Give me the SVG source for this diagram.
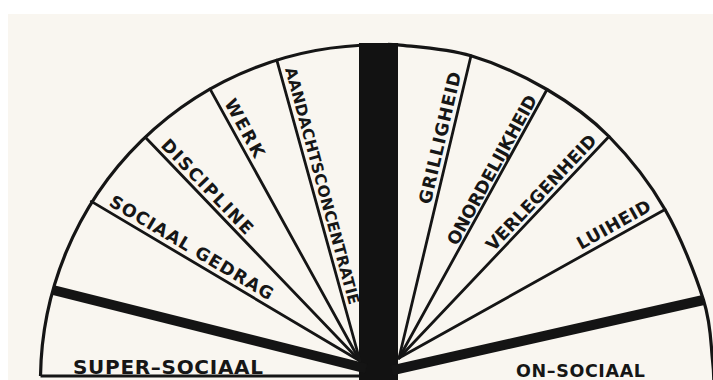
<svg xmlns="http://www.w3.org/2000/svg" width="713" height="380" viewBox="0 0 713 380">
<style>
.arc{stroke:#151515;stroke-width:3.2;fill:none}
.ln{stroke:#151515;stroke-width:2.8;fill:none;stroke-linecap:round}
.band{stroke:#141414;stroke-width:10;fill:none}
.lbl{font-family:"DejaVu Sans","Liberation Sans",sans-serif;font-weight:700;fill:#161616}
</style>
<rect width="713" height="380" fill="#ffffff"/>
<rect x="8" y="14" width="705" height="366" fill="#f9f6f0"/>
<g id="frame">
  <path class="arc" d="M40.5,376 A336,336 0 0 1 380,45"/>
  <path class="arc" d="M388,44.4 L398,44.8 C414.5,46.8 446.2,48.35 471,55.8 C495.8,63.25 524,76.05 547,89.5 C570,102.95 589.33,116.5 609,136.5 C628.67,156.5 649.5,182.25 665,209.5 C680.75,236.75 695.6,274.9 703.5,300 C711.4,325.1 710.75,345 712.5,360 C714.25,375 713.6,380 714,390"/>
  <path class="arc" d="M40.5,376 H362"/>
  <rect x="359" y="43" width="39" height="337" fill="#121212"/>
</g>
<g id="connectors">
  <path class="band" d="M53,290 L366,368.5"/>
  <path class="band" d="M703.5,300 L392,370.4"/>
  <path class="ln" d="M91.3,201.4 L360,361"/>
  <path class="ln" d="M145.3,137.3 L360,361"/>
  <path class="ln" d="M210.1,89.1 L360,361"/>
  <path class="ln" d="M276.8,60.1 L360,361"/>
  <path class="ln" d="M471,55.8 L399,358"/>
  <path class="ln" d="M547,89.5 L399,358"/>
  <path class="ln" d="M609,136.5 L399,358"/>
  <path class="ln" d="M665,209.5 L399,358"/>
</g>
<g id="node-super-sociaal">
  <text class="lbl" font-size="20" x="73" y="373.5" textLength="190" lengthAdjust="spacing">SUPER–SOCIAAL</text>
</g>
<g id="node-sociaal-gedrag">
  <text class="lbl" font-size="17.5" transform="translate(108,205) rotate(30.7)" textLength="187" lengthAdjust="spacing">SOCIAAL GEDRAG</text>
</g>
<g id="node-discipline">
  <text class="lbl" font-size="17.5" transform="translate(160,146) rotate(46.3)" textLength="124" lengthAdjust="spacing">DISCIPLINE</text>
</g>
<g id="node-werk">
  <text class="lbl" font-size="17.5" transform="translate(224,103) rotate(61.4)" textLength="64" lengthAdjust="spacing">WERK</text>
</g>
<g id="node-aandachtsconcentratie">
  <text class="lbl" font-size="15.5" transform="translate(285,69) rotate(74.8)" textLength="245" lengthAdjust="spacing">AANDACHTSCONCENTRATIE</text>
</g>
<g id="node-grilligheid">
  <text class="lbl" font-size="17.5" transform="translate(430.5,205) rotate(-76.8)" textLength="135" lengthAdjust="spacing">GRILLIGHEID</text>
</g>
<g id="node-onordelijkheid">
  <text class="lbl" font-size="17.5" transform="translate(457,246.5) rotate(-61.3)" textLength="168" lengthAdjust="spacing">ONORDELIJKHEID</text>
</g>
<g id="node-verlegenheid">
  <text class="lbl" font-size="17.5" transform="translate(493.5,252) rotate(-46.7)" textLength="152" lengthAdjust="spacing">VERLEGENHEID</text>
</g>
<g id="node-luiheid">
  <text class="lbl" font-size="17.5" transform="translate(581,250) rotate(-29.3)" textLength="82" lengthAdjust="spacing">LUIHEID</text>
</g>
<g id="node-on-sociaal">
  <text class="lbl" font-size="17.5" x="516" y="377" textLength="129" lengthAdjust="spacing">ON–SOCIAAL</text>
</g>
</svg>
